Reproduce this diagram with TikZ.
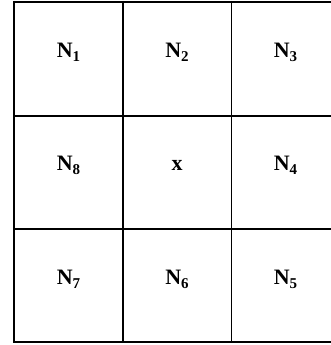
\documentclass[tikz,border=0pt]{standalone}
\usepackage{fontspec}
\usepackage{graphicx}
\setmainfont{Liberation Serif}
\newcommand{\cellN}[1]{\bfseries N\raisebox{-0.2em}{\fontsize{15}{15}\selectfont #1}}
\tikzset{
  lbl/.style={anchor=base, inner sep=0pt, font=\fontsize{22}{23}\selectfont},
  thick line/.style={line width=2pt},
  thin line/.style={line width=1pt}
}
\begin{document}
\begin{tikzpicture}[x=1pt,y=-1pt]
\useasboundingbox (0,0) rectangle (331,345);
\begin{scope}
\clip (0,0) rectangle (331,345);
% horizontal lines
\draw[thick line] (13,2) -- (345,2);
\draw[thick line] (13,116) -- (345,116);
\draw[thick line] (13,229) -- (345,229);
\draw[thick line] (13,342) -- (345,342);
% vertical lines
\draw[line width=2.5pt] (14,1) -- (14,343);
\draw[thick line] (123,1) -- (123,343);
\draw[thin line] (231,1) -- (231,343);
\end{scope}
\node[lbl] (n1) at (68.5,57) {\cellN{1}};
\node[lbl] (n2) at (177,57) {\cellN{2}};
\node[lbl] (n3) at (285.5,57) {\cellN{3}};
\node[lbl] (n8) at (68.5,170.5) {\cellN{8}};
\node[lbl] (x) at (177,170.5) {\bfseries x};
\node[lbl] (n4) at (285.5,170.5) {\cellN{4}};
\node[lbl] (n7) at (68.5,284) {\cellN{7}};
\node[lbl] (n6) at (177,284) {\cellN{6}};
\node[lbl] (n5) at (285.5,284) {\cellN{5}};
\end{tikzpicture}
\end{document}
